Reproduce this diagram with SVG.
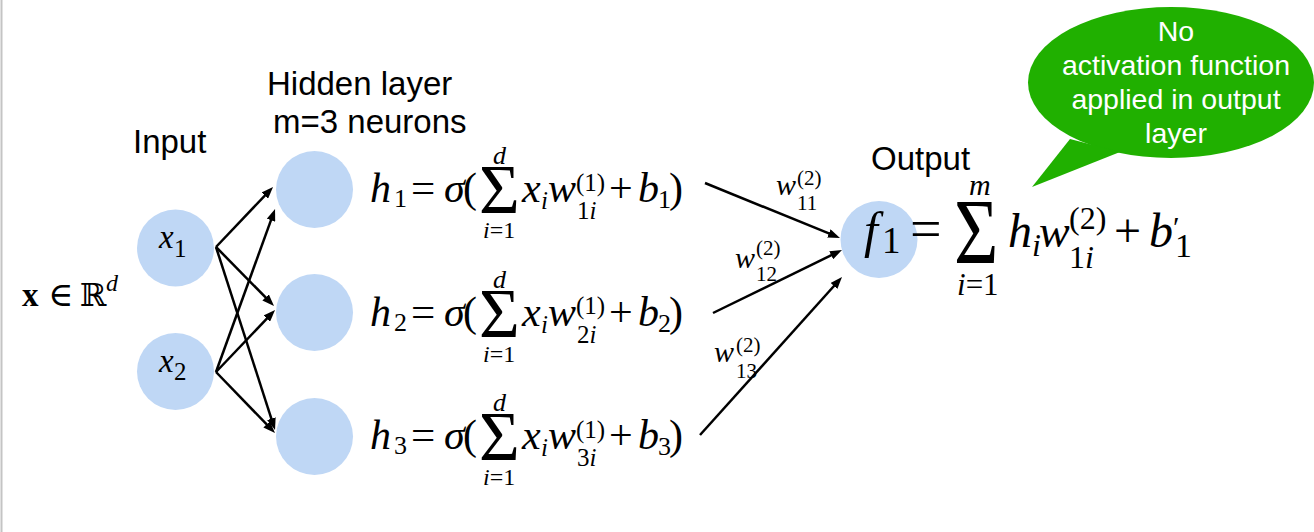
<svg xmlns="http://www.w3.org/2000/svg" width="1314" height="532" viewBox="0 0 1314 532">
<style>
.lbl{font-family:"Liberation Sans",Arial,sans-serif;font-size:33px;fill:#000}
.bub{font-family:"Liberation Sans",Arial,sans-serif;font-size:28.5px;fill:#fff;text-anchor:middle}
.m{font-family:"Liberation Serif","DejaVu Serif",serif;fill:#000}
.i{font-style:italic}
.node{fill:#bfd7f5}
.conn line{stroke:#000;stroke-width:2.5;marker-end:url(#ah)}
</style>
<defs>
<marker id="ah" viewBox="0 0 12 9" refX="6" refY="4.5" markerWidth="12" markerHeight="9" markerUnits="userSpaceOnUse" orient="auto">
<path d="M0,0 L12,4.5 L0,9 z" fill="#000"/>
</marker>
</defs>
<rect x="0" y="0" width="1314" height="532" fill="#fff"/>
<line x1="1.5" y1="0" x2="1.5" y2="532" stroke="#c4c4c4" stroke-width="2"/>

<g id="labels">
<text class="lbl" x="267" y="95">Hidden layer</text>
<text class="lbl" x="273" y="133">m=3 neurons</text>
<text class="lbl" x="133" y="153">Input</text>
<text class="lbl" x="871" y="170">Output</text>
</g>

<g id="input-space">
<text class="m" font-size="32"><tspan x="22" y="306" font-size="33" font-weight="bold">x</tspan><tspan x="48" y="306" font-size="34">∈</tspan><tspan x="80" y="306" font-family="DejaVu Serif">ℝ</tspan><tspan class="i" x="106" y="291" font-size="24">d</tspan></text>
</g>

<g id="x1">
<circle class="node" cx="175.5" cy="248" r="38.5"/>
<text class="m" font-size="33"><tspan class="i" x="159" y="248">x</tspan><tspan x="174" y="257" font-size="25">1</tspan></text>
</g>
<g id="x2">
<circle class="node" cx="175.5" cy="371.5" r="38.5"/>
<text class="m" font-size="33"><tspan class="i" x="159" y="371.5">x</tspan><tspan x="174" y="380" font-size="25">2</tspan></text>
</g>

<g id="h1">
<circle class="node" cx="314.5" cy="189.5" r="38.5"/>
</g>
<g id="h2">
<circle class="node" cx="314.5" cy="312.5" r="38.5"/>
</g>
<g id="h3">
<circle class="node" cx="314.5" cy="436.5" r="38.5"/>
</g>

<g id="eq-h1">
<text class="m" font-size="42"><tspan class="i" x="370" y="202">h</tspan><tspan x="394" y="207" font-size="26">1</tspan><tspan x="411" y="202" font-size="43">=</tspan><tspan class="i" x="444" y="202">σ</tspan><tspan x="463" y="202">(</tspan><tspan x="479" y="213" font-size="70">Σ</tspan><tspan class="i" x="493" y="164" font-size="26">d</tspan><tspan x="483" y="238" font-size="24"><tspan class="i">i</tspan>=1</tspan><tspan class="i" x="522" y="202">x</tspan><tspan class="i" x="541" y="209" font-size="25">i</tspan><tspan class="i" x="548" y="202">w</tspan><tspan x="576" y="190.5" font-size="25">(1)</tspan><tspan x="577" y="219" font-size="25">1<tspan class="i">i</tspan></tspan><tspan x="609" y="202">+</tspan><tspan class="i" x="638" y="202">b</tspan><tspan x="658" y="208" font-size="26">1</tspan><tspan x="669" y="202">)</tspan></text>
</g>

<g id="eq-h2">
<text class="m" font-size="42"><tspan class="i" x="370" y="325.5">h</tspan><tspan x="394" y="330.5" font-size="26">2</tspan><tspan x="411" y="325.5" font-size="43">=</tspan><tspan class="i" x="444" y="325.5">σ</tspan><tspan x="463" y="325.5">(</tspan><tspan x="479" y="336.5" font-size="70">Σ</tspan><tspan class="i" x="493" y="287.5" font-size="26">d</tspan><tspan x="483" y="361.5" font-size="24"><tspan class="i">i</tspan>=1</tspan><tspan class="i" x="522" y="325.5">x</tspan><tspan class="i" x="541" y="332.5" font-size="25">i</tspan><tspan class="i" x="548" y="325.5">w</tspan><tspan x="576" y="314" font-size="25">(1)</tspan><tspan x="577" y="342.5" font-size="25">2<tspan class="i">i</tspan></tspan><tspan x="609" y="325.5">+</tspan><tspan class="i" x="638" y="325.5">b</tspan><tspan x="658" y="331.5" font-size="26">2</tspan><tspan x="669" y="325.5">)</tspan></text>
</g>

<g id="eq-h3">
<text class="m" font-size="42"><tspan class="i" x="370" y="449">h</tspan><tspan x="394" y="454" font-size="26">3</tspan><tspan x="411" y="449" font-size="43">=</tspan><tspan class="i" x="444" y="449">σ</tspan><tspan x="463" y="449">(</tspan><tspan x="479" y="460" font-size="70">Σ</tspan><tspan class="i" x="493" y="411" font-size="26">d</tspan><tspan x="483" y="485" font-size="24"><tspan class="i">i</tspan>=1</tspan><tspan class="i" x="522" y="449">x</tspan><tspan class="i" x="541" y="456" font-size="25">i</tspan><tspan class="i" x="548" y="449">w</tspan><tspan x="576" y="437.5" font-size="25">(1)</tspan><tspan x="577" y="466" font-size="25">3<tspan class="i">i</tspan></tspan><tspan x="609" y="449">+</tspan><tspan class="i" x="638" y="449">b</tspan><tspan x="658" y="455" font-size="26">3</tspan><tspan x="669" y="449">)</tspan></text>
</g>

<g id="f1">
<circle class="node" cx="879" cy="239.5" r="38.5"/>
<text class="m" font-size="50"><tspan class="i" x="864" y="247">f</tspan><tspan x="882" y="253" font-size="37">1</tspan></text>
</g>

<g id="eq-out">
<text class="m" font-size="93" transform="translate(954,263) scale(0.82,1)">Σ</text>
<text class="m" font-size="48"><tspan x="910" y="248" font-size="56">=</tspan><tspan class="i" x="969" y="195" font-size="30">m</tspan><tspan x="957" y="295" font-size="31"><tspan class="i">i</tspan>=1</tspan><tspan class="i" x="1008" y="247">h</tspan><tspan class="i" x="1032" y="256" font-size="32">i</tspan><tspan class="i" x="1039" y="247" font-size="46">w</tspan><tspan x="1069" y="229" font-size="32">(2)</tspan><tspan x="1069" y="268" font-size="32">1<tspan class="i">i</tspan></tspan><tspan x="1114" y="247">+</tspan><tspan class="i" x="1149" y="247">b</tspan><tspan x="1173" y="237" font-size="30">′</tspan><tspan x="1175" y="257" font-size="34">1</tspan></text>
</g>

<g id="weights">
<text class="m" font-size="21"><tspan class="i" x="776" y="195" font-size="30">w</tspan><tspan x="797" y="185">(2)</tspan><tspan x="797" y="210">11</tspan></text>
<text class="m" font-size="21"><tspan class="i" x="735" y="268" font-size="30">w</tspan><tspan x="756" y="255">(2)</tspan><tspan x="756" y="281">12</tspan></text>
<text class="m" font-size="21"><tspan class="i" x="714" y="362" font-size="30">w</tspan><tspan x="736" y="352">(2)</tspan><tspan x="736" y="378">13</tspan></text>
</g>

<g id="connectors" class="conn">
<line x1="216" y1="247" x2="268.9" y2="191.3"/>
<line x1="216" y1="247" x2="269.8" y2="301.7"/>
<line x1="216" y1="247" x2="273.2" y2="424.3"/>
<line x1="216" y1="372" x2="273" y2="214.6"/>
<line x1="216" y1="372" x2="270.9" y2="314.3"/>
<line x1="216" y1="372" x2="270.8" y2="428.7"/>
<line x1="705" y1="183" x2="834.4" y2="235.7"/>
<line x1="713" y1="313" x2="836.6" y2="252.6"/>
<line x1="700" y1="435" x2="838" y2="281.5"/>
</g>

<g id="callout">
<ellipse cx="1171" cy="82.5" rx="143" ry="75.5" fill="#20b000"/>
<polygon points="1070,139 1032,187 1120,152" fill="#20b000"/>
<text class="bub" x="1176" y="41">No</text>
<text class="bub" x="1176" y="75">activation function</text>
<text class="bub" x="1176" y="109">applied in output</text>
<text class="bub" x="1176" y="143">layer</text>
</g>
</svg>
